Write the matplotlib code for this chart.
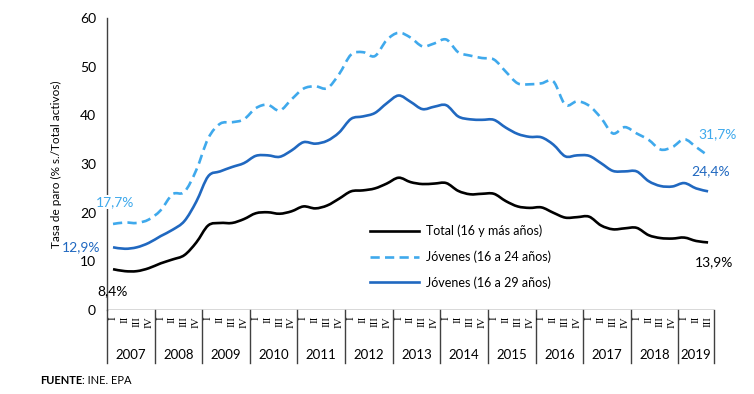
import matplotlib
matplotlib.use("Agg")
import matplotlib.pyplot as plt
import numpy as np
from matplotlib.path import Path
from matplotlib.patches import PathPatch
from matplotlib.lines import Line2D
import matplotlib.transforms as mtransforms

plt.rcParams['font.family'] = ['Lato', 'DejaVu Sans']

years = ['2007', '2008', '2009', '2010', '2011', '2012', '2013',
         '2014', '2015', '2016', '2017', '2018', '2019']
quarters_per_year = [4] * 12 + [3]
quarter_names = ['I', 'II', 'III', 'IV']

total = [8.4, 8.0, 8.0, 8.6,
         9.6, 10.4, 11.3, 13.9,
         17.4, 17.9, 17.9, 18.7,
         19.9, 20.1, 19.8, 20.3,
         21.3, 20.9, 21.5, 22.9,
         24.4, 24.6, 25.0, 26.0,
         27.2, 26.3, 25.9, 26.0,
         26.1, 24.5, 23.8, 23.9,
         23.9, 22.4, 21.3, 21.0,
         21.1, 20.0, 19.0, 19.1,
         19.2, 17.4, 16.6, 16.8,
         16.9, 15.4, 14.8, 14.7,
         14.9, 14.2, 13.9]

jov_16_24 = [17.7, 18.0, 17.9, 18.6,
             20.5, 23.8, 24.3, 28.8,
             35.3, 38.3, 38.6, 39.2,
             41.5, 42.2, 41.0, 43.3,
             45.5, 46.0, 45.6, 48.5,
             52.5, 53.0, 52.2, 55.5,
             57.0, 56.0, 54.2, 54.8,
             55.6, 53.0, 52.3, 51.8,
             51.5, 49.0, 46.6, 46.4,
             46.6, 47.0, 42.2, 42.9,
             42.0, 39.5, 36.3, 37.6,
             36.3, 35.0, 33.0, 33.5,
             35.1, 33.5, 31.7]

jov_16_29 = [12.9, 12.6, 12.9, 13.8,
             15.2, 16.5, 18.3, 22.3,
             27.5, 28.5, 29.4, 30.2,
             31.7, 31.8, 31.5, 32.8,
             34.5, 34.2, 34.8, 36.5,
             39.3, 39.8, 40.5, 42.5,
             44.1, 42.8, 41.3, 41.8,
             42.1, 39.8, 39.2, 39.1,
             39.1, 37.5, 36.2, 35.6,
             35.5, 34.0, 31.6, 31.8,
             31.7, 30.2, 28.6, 28.5,
             28.5, 26.5, 25.5, 25.4,
             26.1, 25.0, 24.4]

labels_series = ['Total (16 y más años)', 'Jóvenes (16 a 24 años)', 'Jóvenes (16 a 29 años)']
start_labels = ['8,4%', '17,7%', '12,9%']
end_labels = ['13,9%', '31,7%', '24,4%']

c_black = '#000000'
c_light = '#3FA9EC'
c_dark = '#2068C0'

fig = plt.figure(figsize=(7.54, 3.94), dpi=100)
ax = fig.add_axes([0.142, 0.213, 0.805, 0.741])

n = len(total)
x = np.arange(n)


def smooth_path(xv, yv):
    pts = np.column_stack([xv, yv]).astype(float)
    verts = [pts[0]]
    codes = [Path.MOVETO]
    m = len(pts)
    for i in range(m - 1):
        p0 = pts[i - 1] if i > 0 else pts[i]
        p1 = pts[i]
        p2 = pts[i + 1]
        p3 = pts[i + 2] if i + 2 < m else pts[i + 1]
        c1 = p1 + (p2 - p0) / 6.0
        c2 = p2 - (p3 - p1) / 6.0
        verts += [c1, c2, p2]
        codes += [Path.CURVE4] * 3
    return Path(verts, codes)


styles = [
    dict(color=c_black, ls='-'),
    dict(color=c_light, ls=(0, (3.5, 2))),
    dict(color=c_dark, ls='-'),
]
series = [total, jov_16_24, jov_16_29]
handles = []
for s, st, lab in zip(series, styles, labels_series):
    patch = PathPatch(smooth_path(x, s), facecolor='none', edgecolor=st['color'],
                      lw=1.9, linestyle=st['ls'], capstyle='butt', zorder=3)
    ax.add_patch(patch)
    handles.append(Line2D([], [], color=st['color'], lw=1.9, linestyle=st['ls'], label=lab))

ax.set_xlim(-0.5, n - 0.5)
ax.set_ylim(0, 60)
ax.set_yticks(range(0, 61, 10))
ax.tick_params(axis='y', length=0, labelsize=10, pad=8)
ax.set_xticks([])
for sp in ['top', 'right', 'bottom']:
    ax.spines[sp].set_visible(False)
ax.spines['left'].set_linewidth(1.0)
ax.spines['left'].set_color('#404040')
ax.set_ylabel('Tasa de paro (% s./Total activos)', fontsize=8.5, labelpad=13)

# baseline
ax.axhline(0, color='#404040', lw=1.0, zorder=2)

trans = mtransforms.blended_transform_factory(ax.transData, ax.transAxes)
# category table: year separators, quarter and year labels
pos = -0.5
ax.plot([pos, pos], [0, -0.18], transform=trans, color='#404040', lw=1.0, clip_on=False)
idx = 0
for yr, nq in zip(years, quarters_per_year):
    for q in range(nq):
        ax.text(idx, -0.02, quarter_names[q], transform=trans, rotation=90,
                ha='center', va='top', fontsize=8, family='Liberation Serif')
        idx += 1
    end = pos + nq
    ax.plot([end, end], [0, -0.18], transform=trans, color='#404040', lw=1.0, clip_on=False)
    ax.text((pos + end) / 2, -0.155, yr, transform=trans, ha='center', va='center', fontsize=9.5)
    pos = end

# start / end annotations
ax.text(0.0, 3.9, start_labels[0], ha='center', va='center', fontsize=10, color=c_black)
ax.text(0.2, 22.2, start_labels[1], ha='center', va='center', fontsize=10, color=c_light,
        bbox=dict(facecolor='white', edgecolor='none', pad=0.5), zorder=4)
ax.text(-2.7, 12.9, start_labels[2], ha='center', va='center', fontsize=10, color=c_dark,
        clip_on=False)
ax.text(50.8, 36.2, end_labels[1], ha='center', va='center', fontsize=10, color=c_light,
        clip_on=False)
ax.text(50.2, 28.5, end_labels[2], ha='center', va='center', fontsize=10, color=c_dark,
        clip_on=False)
ax.text(50.5, 9.8, end_labels[0], ha='center', va='center', fontsize=10, color=c_black,
        clip_on=False)

ax.legend(handles=handles, loc='upper left', bbox_to_anchor=(0.433, 0.292), frameon=False,
          fontsize=9, handlelength=3.9, handletextpad=0.6, labelspacing=1.05,
          borderaxespad=0, borderpad=0)

t1 = fig.text(0.053, 0.033, 'FUENTE', fontsize=8, fontweight='bold', va='center', ha='left')
fig.text(0, 0, ': INE. EPA', fontsize=8, va='center', ha='left',
         transform=mtransforms.offset_copy(fig.transFigure, fig=fig, x=0, y=0))
fig.canvas.draw()
bb = t1.get_window_extent()
fig.texts[-1].remove()
fig.text(bb.x1 / fig.bbox.width, 0.033, ': INE. EPA', fontsize=8, va='center', ha='left')

fig.savefig('out.png', dpi=100)
